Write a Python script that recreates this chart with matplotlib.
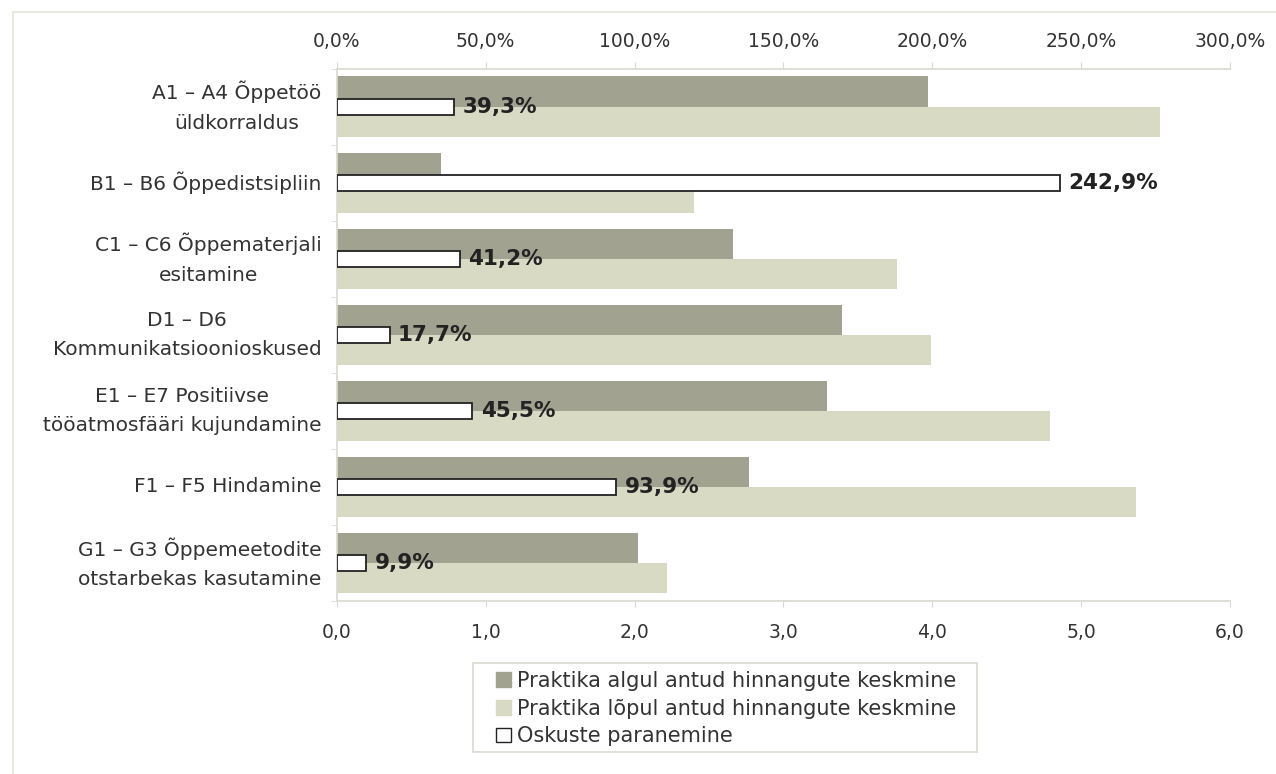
import matplotlib.pyplot as plt
import matplotlib.patches as mpatches
from matplotlib.ticker import FixedLocator, FuncFormatter
import numpy as np

# andmed
kategooriad = [
    "A1 – A4 Õppetöö\nüldkorraldus",
    "B1 – B6 Õppedistsipliin",
    "C1 – C6 Õppematerjali\nesitamine",
    "D1 – D6\nKommunikatsioonioskused",
    "E1 – E7 Positiivse\ntööatmosfääri kujundamine",
    "F1 – F5 Hindamine",
    "G1 – G3 Õppemeetodite\notstarbekas kasutamine",
]
algul = [3.97, 0.70, 2.66, 3.39, 3.29, 2.77, 2.02]
lopul = [5.53, 2.40, 3.76, 3.99, 4.79, 5.37, 2.22]
paranemine = [39.3, 242.9, 41.2, 17.7, 45.5, 93.9, 9.9]

c_algul = "#a2a291"
c_lopul = "#d8dac4"
c_tekst = "#333333"
c_joon = "#d9d9cf"

plt.rcParams["font.family"] = "DejaVu Sans"

fig = plt.figure(figsize=(12.76, 7.74), dpi=100)
ax = fig.add_axes([0.264, 0.2235, 0.7, 0.6875])

y = np.arange(len(kategooriad))
ax.barh(y - 0.2, algul, 0.4, color=c_algul, zorder=2)
ax.barh(y + 0.2, lopul, 0.4, color=c_lopul, zorder=2)

ax.set_xlim(0, 6)
ax.set_ylim(len(kategooriad) - 0.5, -0.5)
ax.set_xticks(np.arange(0, 7, 1))
ax.xaxis.set_major_formatter(FuncFormatter(lambda v, p: f"{v:.1f}".replace(".", ",")))
ax.set_yticks(y)
ax.set_yticklabels(kategooriad, multialignment="center", linespacing=1.7, va="center")
ax.yaxis.set_minor_locator(FixedLocator(np.arange(-0.5, len(kategooriad), 1)))
ax.tick_params(axis="y", which="major", length=0, pad=11, labelsize=14.5, labelcolor=c_tekst)
ax.tick_params(axis="y", which="minor", length=4, color=c_joon)
ax.tick_params(axis="x", length=4, color=c_joon, pad=12, labelsize=13.5, labelcolor=c_tekst)

# protsendid ülemisel teljel
ax2 = ax.twiny()
ax2.set_xlim(0, 300)
ax2.set_xticks(np.arange(0, 301, 50))
ax2.xaxis.set_major_formatter(FuncFormatter(lambda v, p: f"{v:.1f}%".replace(".", ",")))
ax2.tick_params(axis="x", length=5, color=c_joon, pad=8, labelsize=13.5, labelcolor=c_tekst)
ax2.barh(y, paranemine, 0.22, color="white", edgecolor="#222222", linewidth=1.3, zorder=3)
for yi, p in zip(y, paranemine):
    ax2.annotate(f"{p:.1f}%".replace(".", ","), xy=(p, yi), xytext=(6, 0),
                 textcoords="offset points", va="center", ha="left",
                 fontsize=15.5, fontweight="bold", color="#222222", zorder=4)

for a in (ax, ax2):
    for s in a.spines.values():
        s.set_color(c_joon)
        s.set_linewidth(1.2)
    a.spines["right"].set_visible(False)
ax.spines["top"].set_visible(False)
ax2.spines["bottom"].set_visible(False)
ax2.spines["left"].set_visible(False)

# legend, raam joonistatakse eraldi
kirjed = [
    mpatches.Patch(facecolor=c_algul, edgecolor=c_algul, label="Praktika algul antud hinnangute keskmine"),
    mpatches.Patch(facecolor=c_lopul, edgecolor=c_lopul, label="Praktika lõpul antud hinnangute keskmine"),
    mpatches.Patch(facecolor="white", edgecolor="#222222", label="Oskuste paranemine"),
]
leg = fig.legend(handles=kirjed, loc="center", bbox_to_anchor=(0.569, 0.0846),
                 fontsize=15, handlelength=0.7, handleheight=0.7, handletextpad=0.3,
                 labelspacing=0.38, borderpad=0.3, frameon=False)
for t in leg.get_texts():
    t.set_color(c_tekst)
fig.patches.append(mpatches.Rectangle((0.3707, 0.0284), 0.395, 0.115, transform=fig.transFigure,
                                      fill=False, edgecolor=c_joon, linewidth=1.2))

# diagrammiala raam
fig.patches.append(mpatches.Rectangle((0.01, -0.01), 1.2, 0.994, transform=fig.transFigure,
                                      fill=False, edgecolor="#e4e4dc", linewidth=1.2))

fig.savefig("out.png", dpi=100, facecolor="white")
